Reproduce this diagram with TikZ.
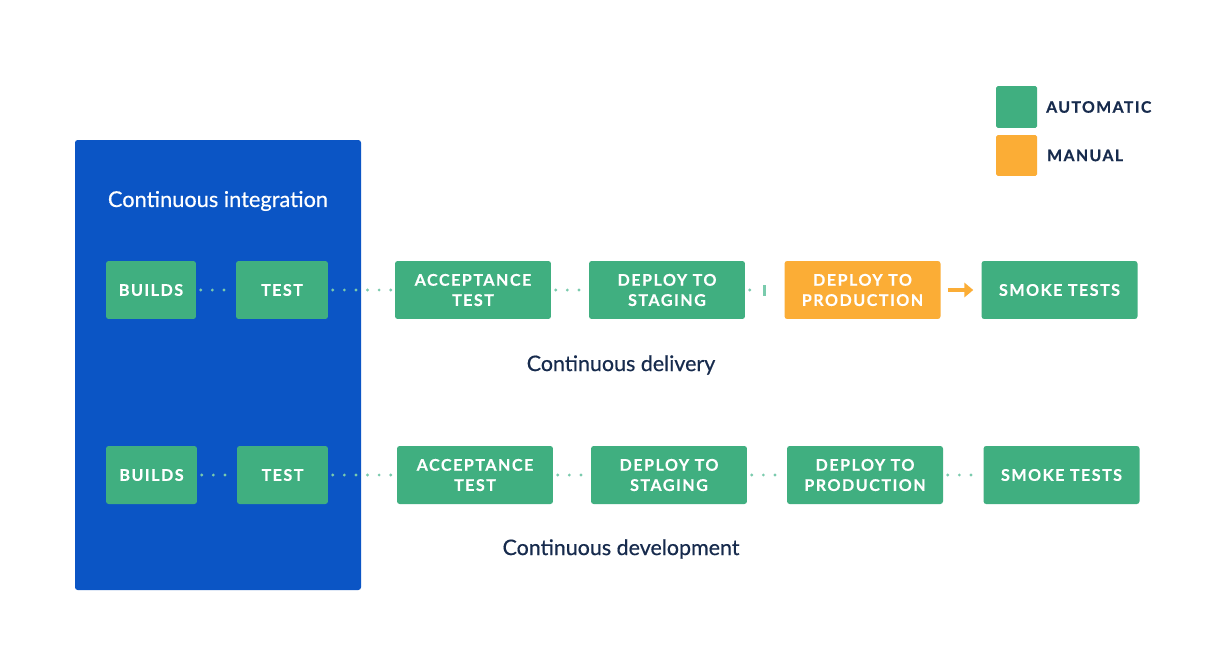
\documentclass[tikz,border=0pt]{standalone}
\usepackage{fontspec}
\setmainfont{Lato}
\usetikzlibrary{arrows.meta}
\definecolor{grn}{HTML}{40AF80}
\definecolor{org}{HTML}{FBAD36}
\definecolor{blu}{HTML}{0B55C5}
\definecolor{dotc}{HTML}{7ACBAD}
\definecolor{navy}{HTML}{172B4D}
\begin{document}
\begin{tikzpicture}[x=0.02cm,y=-0.02cm,
  stepbox/.style={fill=grn, rounded corners=1.5pt, minimum height=1.16cm, text=white,
    font=\bfseries\addfontfeature{LetterSpace=9,FakeBold=0.3}\fontsize{9.2}{11.5}\selectfont, align=center, inner sep=0pt},
  wide/.style={minimum width=3.12cm},
  manual/.style={fill=org},
  conn/.style={dotc, line width=1.8pt, line cap=round, dash pattern=on 0pt off 6.6pt},
  title/.style={font=\addfontfeature{FakeBold=0.5}\fontsize{12.2}{14}\selectfont, text=navy},
  legtext/.style={font=\bfseries\addfontfeature{LetterSpace=9,FakeBold=0.6}\fontsize{9}{11}\selectfont, text=navy, anchor=west}]
\useasboundingbox (0,0) rectangle (1212,652);
\fill[white] (0,0) rectangle (1212,652);
% CI panel
\fill[blu, rounded corners=1.5pt] (75,140) rectangle (361,590);
\node[font=\addfontfeature{FakeBold=0.5}\fontsize{12.4}{14}\selectfont, text=white] (ci) at (218,201) {Continuous integration};
% legend
\node[fill=grn, minimum width=0.82cm, minimum height=0.84cm, inner sep=0, rounded corners=1pt] (la) at (1016.5,107) {};
\node[fill=org, minimum width=0.82cm, minimum height=0.82cm, inner sep=0, rounded corners=1pt] (lm) at (1016.5,155.5) {};
\node[legtext] (lat) at (1040,107) {AUTOMATIC};
\node[legtext] (lmt) at (1041,155.5) {MANUAL};
% top row
\node[stepbox, minimum width=1.8cm] (b1) at (151,290) {BUILDS};
\node[stepbox, minimum width=1.84cm] (t1) at (282,290) {TEST};
\node[stepbox, wide] (a1) at (473,290) {ACCEPTANCE\\TEST};
\node[stepbox, wide] (s1) at (667,290) {DEPLOY TO\\STAGING};
\node[stepbox, wide, manual] (p1) at (862.5,290) {DEPLOY TO\\PRODUCTION};
\node[stepbox, wide] (k1) at (1059.5,290) {SMOKE TESTS};
% bottom row
\node[stepbox, minimum width=1.82cm] (b2) at (151.5,475) {BUILDS};
\node[stepbox, minimum width=1.82cm] (t2) at (282.5,475) {TEST};
\node[stepbox, wide] (a2) at (475,475) {ACCEPTANCE\\TEST};
\node[stepbox, wide] (s2) at (669,475) {DEPLOY TO\\STAGING};
\node[stepbox, wide] (p2) at (865,475) {DEPLOY TO\\PRODUCTION};
\node[stepbox, wide] (k2) at (1061.5,475) {SMOKE TESTS};
% titles
\node[title] (cd) at (621,365) {Continuous delivery};
\node[title] (cdev) at (621,549) {Continuous development};
% connectors top
\draw[conn, shorten <=2.5pt, shorten >=1pt] (b1.east) -- (t1.west);
\draw[conn, shorten <=2.5pt, shorten >=1pt] (t1.east) -- (a1.west);
\draw[conn, shorten <=2.5pt, shorten >=1pt] (a1.east) -- (s1.west);
\coordinate (stop) at (764,290);
\draw[conn, shorten <=2.5pt, shorten >=3pt] (s1.east) -- (stop);
\fill[dotc] (763,284.5) rectangle (766,295.5);
\draw[org, line width=2.2pt, -{Triangle[length=5pt,width=8pt]}] ([xshift=4pt]p1.east) -- ([xshift=-4.5pt]k1.west);
% connectors bottom
\draw[conn, shorten <=2.5pt, shorten >=1pt] (b2.east) -- (t2.west);
\draw[conn, shorten <=2.5pt, shorten >=1pt] (t2.east) -- (a2.west);
\draw[conn, shorten <=2.5pt, shorten >=1pt] (a2.east) -- (s2.west);
\draw[conn, shorten <=2.5pt, shorten >=1pt] (s2.east) -- (p2.west);
\draw[conn, shorten <=2.5pt, shorten >=1pt] (p2.east) -- (k2.west);
\end{tikzpicture}
\end{document}
